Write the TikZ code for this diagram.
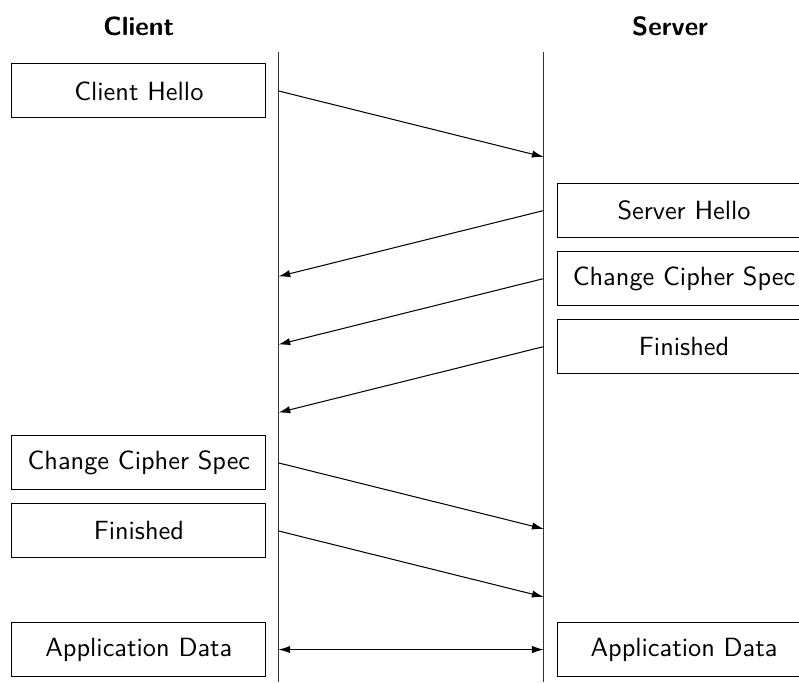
\documentclass[tikz,border=0pt]{standalone}
\usepackage{tikz}
\usetikzlibrary{arrows.meta,positioning,calc}
\tikzset{
  msgbox/.style={draw, align=center, font=\sffamily\fontsize{10.2}{12}\selectfont,
    minimum width=3.457cm, minimum height=0.735cm, inner sep=0pt},
  party/.style={font=\sffamily\bfseries\fontsize{10.2}{12}\selectfont},
  lifeline/.style={draw=black!80, line width=0.4pt},
  msg/.style={-{Latex[length=1.6mm, width=1mm]}, draw=black},
  bothmsg/.style={{Latex[length=1.6mm, width=1mm]}-{Latex[length=1.6mm, width=1mm]}, draw=black}
}

\begin{document}
\begin{tikzpicture}
        \useasboundingbox (0,0) rectangle (10.874,-9.282);
        % lifelines
        \coordinate (cTop) at (3.79,-0.71);
        \coordinate (cBot) at (3.79,-9.282);
        \coordinate (sTop) at (7.40,-0.71);
        \coordinate (sBot) at (7.40,-9.282);
        \draw[lifeline] (cTop) -- (cBot);
        \draw[lifeline] (sTop) -- (sBot);
        \node[party] (client) at (1.89,-0.354) {Client};
        \node[party] (server) at (9.12,-0.354) {Server};
        % client side
        \node[msgbox] (chello) at (1.89,-1.238) {Client Hello};
        \node[msgbox] (cccs) at (1.89,-6.30) {Change Cipher Spec};
        \node[msgbox, below=0.177cm of cccs] (cfin) {Finished};
        \node[msgbox] (cdata) at (1.89,-8.84) {Application Data};
        % server side
        \node[msgbox] (shello) at (9.31,-2.865) {Server Hello};
        \node[msgbox, below=0.177cm of shello] (sccs) {Change Cipher Spec};
        \node[msgbox, below=0.177cm of sccs] (sfin) {Finished};
        \node[msgbox] (sdata) at (9.31,-8.84) {Application Data};
        % messages
        \draw[msg] (chello.east -| cTop) -- ($(chello.east -| sTop)+(0,-0.898)$);
        \draw[msg] (shello.west -| sTop) -- ($(shello.west -| cTop)+(0,-0.898)$);
        \draw[msg] (sccs.west -| sTop) -- ($(sccs.west -| cTop)+(0,-0.898)$);
        \draw[msg] (sfin.west -| sTop) -- ($(sfin.west -| cTop)+(0,-0.898)$);
        \draw[msg] (cccs.east -| cTop) -- ($(cccs.east -| sTop)+(0,-0.898)$);
        \draw[msg] (cfin.east -| cTop) -- ($(cfin.east -| sTop)+(0,-0.898)$);
        \draw[bothmsg] (cdata.east -| cTop) -- (sdata.west -| sTop);
      \end{tikzpicture}
\end{document}
